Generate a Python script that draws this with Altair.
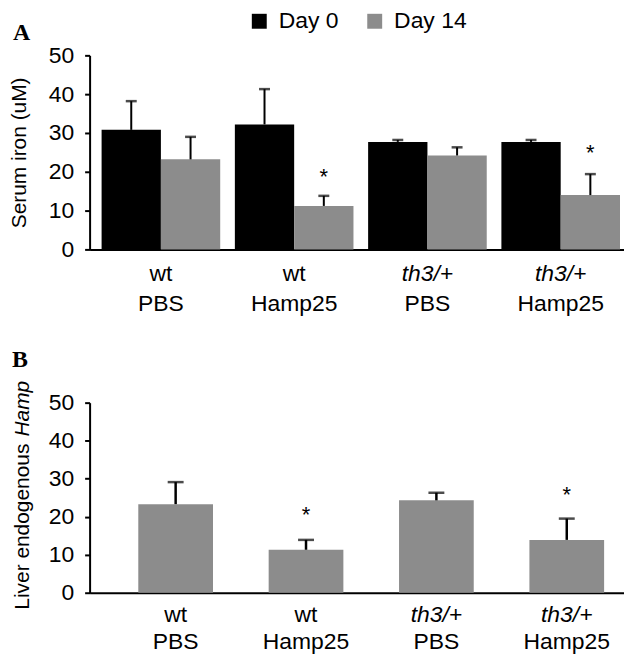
import altair as alt
import pandas as pd

# ---------------- data ----------------
groups = ["wt PBS", "wt Hamp25", "th3/+ PBS", "th3/+ Hamp25"]
label_line1 = ["wt", "wt", "th3/+", "th3/+"]
label_line2 = ["PBS", "Hamp25", "PBS", "Hamp25"]
line1_italic = [False, False, True, True]
days = ["Day 0", "Day 14"]
day_colors = ["#000000", "#8c8c8c"]

day0_mean = [30.8, 32.2, 27.7, 27.7]
day0_err_top = [38.2, 41.3, 28.2, 28.2]
day14_mean = [23.2, 11.2, 24.2, 14.0]
day14_err_top = [29.0, 13.8, 26.3, 19.4]
day14_star = [None, 19.8, None, 26.0]

hamp_mean = [23.3, 11.3, 24.3, 13.9]
hamp_err_top = [29.1, 13.9, 26.3, 19.5]
hamp_star = [None, 21.7, None, 27.0]

y_ticks = [0, 10, 20, 30, 40, 50]

# ---------------- tables ----------------
rows = []
for i, g in enumerate(groups):
    rows.append({"group": g, "day": days[0], "value": day0_mean[i], "err": day0_err_top[i], "star": None})
    rows.append({"group": g, "day": days[1], "value": day14_mean[i], "err": day14_err_top[i], "star": day14_star[i]})
dfA = pd.DataFrame(rows)

dfB = pd.DataFrame({"group": groups, "value": hamp_mean, "err": hamp_err_top, "star": hamp_star})
dfL = pd.DataFrame({"group": groups, "l1": label_line1, "l2": label_line2, "italic": line1_italic})

W = 537
HA = 195
HB = 191
FONT = "Liberation Sans"

# ---------------- panel A ----------------
xA_scale = alt.Scale(paddingInner=0.11, paddingOuter=0.06, align=0.75)
xA = alt.X("group:N", sort=groups, scale=xA_scale,
           axis=alt.Axis(title=None, labels=False, ticks=False, domainColor="black", domainWidth=2))
xoff = alt.XOffset("day:N", sort=days, scale=alt.Scale(paddingInner=0, paddingOuter=0))
yA_scale = alt.Scale(domain=[0, 50], nice=False)
yA_axis = alt.Axis(values=y_ticks, title="Serum iron (uM)", titleFontSize=21,
                   titleFontWeight="normal", titlePadding=19, tickSize=5,
                   labelPadding=11, domainWidth=2, tickWidth=2)

def yA(field):
    return alt.Y(field, scale=yA_scale, axis=yA_axis, title="Serum iron (uM)")

barsA = alt.Chart(dfA).mark_bar().encode(
    x=xA,
    xOffset=xoff,
    y=yA("value:Q"),
    color=alt.Color("day:N", sort=days, scale=alt.Scale(domain=days, range=day_colors),
                    legend=alt.Legend(title=None, orient="none", legendX=159, legendY=-46,
                                      direction="horizontal", symbolType="square",
                                      symbolSize=225, labelFontSize=23, labelColor="black",
                                      labelFont=FONT, columnPadding=24, labelOffset=8,
                                      symbolStrokeWidth=0, padding=0, offset=0)),
)
ruleA = alt.Chart(dfA).mark_rule(color="black", strokeWidth=2).encode(
    x=xA, xOffset=xoff, y=yA("value:Q"), y2="err:Q")
capA = alt.Chart(dfA).mark_tick(color="black", thickness=2.5, size=11).encode(
    x=xA, xOffset=xoff, y=yA("err:Q"))
starA = alt.Chart(dfA).transform_filter("isValid(datum.star)").mark_text(
    text="*", fontSize=22, font=FONT, baseline="alphabetic", dy=12, color="black").encode(
    x=xA, xOffset=xoff, y=yA("star:Q"))

def label_layers(xenc, h, off1, off2):
    l1n = alt.Chart(dfL).transform_filter("!datum.italic").mark_text(
        fontSize=23, font=FONT, baseline="alphabetic", color="black").encode(
        x=xenc, y=alt.value(h + off1), text="l1:N")
    l1i = alt.Chart(dfL).transform_filter("datum.italic").mark_text(
        fontSize=23, font=FONT, fontStyle="italic", baseline="alphabetic", color="black").encode(
        x=xenc, y=alt.value(h + off1), text="l1:N")
    l2 = alt.Chart(dfL).mark_text(
        fontSize=23, font=FONT, baseline="alphabetic", color="black").encode(
        x=xenc, y=alt.value(h + off2), text="l2:N")
    return [l1n, l1i, l2]

letterA = alt.Chart(pd.DataFrame({"t": ["A"]})).mark_text(
    font="Liberation Serif", fontWeight="bold", fontSize=24, align="left",
    baseline="alphabetic", color="black").encode(
    x=alt.value(-77), y=alt.value(-15), text="t:N")

panelA = alt.layer(barsA, ruleA, capA, starA, *label_layers(xA, HA, 32, 62), letterA).properties(
    width=W, height=HA)

# ---------------- panel B ----------------
xB_scale = alt.Scale(paddingInner=0.427, paddingOuter=0.263, align=0.71)
xB = alt.X("group:N", sort=groups, scale=xB_scale,
           axis=alt.Axis(title=None, labels=False, ticks=False, domainColor="black", domainWidth=2))
yB_scale = alt.Scale(domain=[0, 50], nice=False)
yB_axis = alt.Axis(values=y_ticks, title=None, tickSize=5, labelPadding=11,
                   domainWidth=2, tickWidth=2)

def yB(field):
    return alt.Y(field, scale=yB_scale, axis=yB_axis, title=None)

barsB = alt.Chart(dfB).mark_bar(color=day_colors[1]).encode(x=xB, y=yB("value:Q"))
ruleB = alt.Chart(dfB).mark_rule(color="black", strokeWidth=2.5).encode(
    x=xB, y=yB("value:Q"), y2="err:Q")
capB = alt.Chart(dfB).mark_tick(color="black", thickness=2.5, size=16).encode(
    x=xB, y=yB("err:Q"))
starB = alt.Chart(dfB).transform_filter("isValid(datum.star)").mark_text(
    text="*", fontSize=22, font=FONT, baseline="alphabetic", dy=12, color="black").encode(
    x=xB, y=yB("star:Q"))

letterB = alt.Chart(pd.DataFrame({"t": ["B"]})).mark_text(
    font="Liberation Serif", fontWeight="bold", fontSize=24, align="left",
    baseline="alphabetic", color="black").encode(
    x=alt.value(-78), y=alt.value(-36), text="t:N")

titleB1 = alt.Chart(pd.DataFrame({"t": ["Liver endogenous"]})).mark_text(
    font=FONT, fontSize=21, angle=270, align="left", baseline="middle", color="black").encode(
    x=alt.value(-67), y=alt.value(208), text="t:N")
titleB2 = alt.Chart(pd.DataFrame({"t": ["Hamp"]})).mark_text(
    font=FONT, fontSize=21, fontStyle="italic", angle=270, align="left", baseline="middle",
    color="black").encode(
    x=alt.value(-67), y=alt.value(34), text="t:N")

panelB = alt.layer(barsB, ruleB, capB, starB, *label_layers(xB, HB, 29, 57),
                   letterB, titleB1, titleB2).properties(width=W, height=HB)

chart = alt.vconcat(panelA, panelB, spacing=32,
                    padding={"left": 0, "top": 0, "right": 0, "bottom": 0}).configure(
    font=FONT
).configure_view(stroke=None).configure_axis(
    labelFont=FONT, labelFontSize=23, labelColor="black", titleFont=FONT, titleColor="black",
    tickColor="black", domainColor="black", grid=False
)

chart.save("out.html", embed_options={"renderer": "svg", "actions": False})
